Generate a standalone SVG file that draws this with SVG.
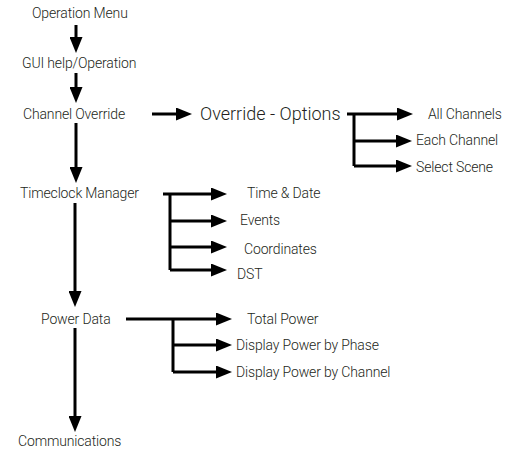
<svg xmlns="http://www.w3.org/2000/svg" width="526" height="456" viewBox="0 0 526 456">
<style>
text{font-family:Roboto,"Liberation Sans",sans-serif;font-size:14px;font-weight:300;letter-spacing:-0.15px;fill:#231f20}
.big{font-size:18px;letter-spacing:0}
.c{fill:none;stroke:#000;stroke-width:3;marker-end:url(#ah)}
.l{fill:none;stroke:#000;stroke-width:3}
</style>
<defs>
<marker id="ah" viewBox="0 0 16 13" refX="6" refY="6.5" markerWidth="16" markerHeight="13" markerUnits="userSpaceOnUse" orient="auto">
<path d="M0,0 L16,6.5 L0,13 z" fill="#000"/>
</marker>
</defs>
<rect width="526" height="456" fill="#fff"/>
<g id="connectors">
<path class="c" d="M76,25 V43"/>
<path class="c" d="M76,73 V93"/>
<path class="c" d="M76,123 V173"/>
<path class="c" d="M75,203 V297"/>
<path class="c" d="M75,328 V422"/>
<path class="c" d="M152,114 H182"/>
<path class="c" d="M347,114 H403"/>
<path class="l" d="M354,114 V166"/>
<path class="c" d="M354,141 H402"/>
<path class="c" d="M354,166 H402"/>
<path class="c" d="M163,194 H217"/>
<path class="l" d="M170,194 V270"/>
<path class="c" d="M170,221 H217"/>
<path class="c" d="M170,247 H217"/>
<path class="c" d="M170,270 H217"/>
<path class="c" d="M126,319 H222"/>
<path class="l" d="M173,319 V372"/>
<path class="c" d="M173,345 H222"/>
<path class="c" d="M173,372 H222"/>
</g>
<g id="operation-menu"><text x="32" y="18">Operation Menu</text></g>
<g id="gui-help"><text x="22" y="68">GUI help/Operation</text></g>
<g id="channel-override"><text x="23" y="119">Channel Override</text></g>
<g id="override-options"><text class="big" x="200" y="120">Override - Options</text></g>
<g id="all-channels"><text x="428" y="119">All Channels</text></g>
<g id="each-channel"><text x="416" y="145">Each Channel</text></g>
<g id="select-scene"><text x="416" y="172">Select Scene</text></g>
<g id="timeclock-manager"><text x="20" y="198">Timeclock Manager</text></g>
<g id="time-date"><text x="247" y="198">Time &amp; Date</text></g>
<g id="events"><text x="240" y="225">Events</text></g>
<g id="coordinates"><text x="244" y="254">Coordinates</text></g>
<g id="dst"><text x="237" y="279">DST</text></g>
<g id="power-data"><text x="41" y="324">Power Data</text></g>
<g id="total-power"><text x="247" y="324">Total Power</text></g>
<g id="power-phase"><text x="236" y="350">Display Power by Phase</text></g>
<g id="power-channel"><text x="236" y="377">Display Power by Channel</text></g>
<g id="communications"><text x="18" y="446">Communications</text></g>
</svg>
